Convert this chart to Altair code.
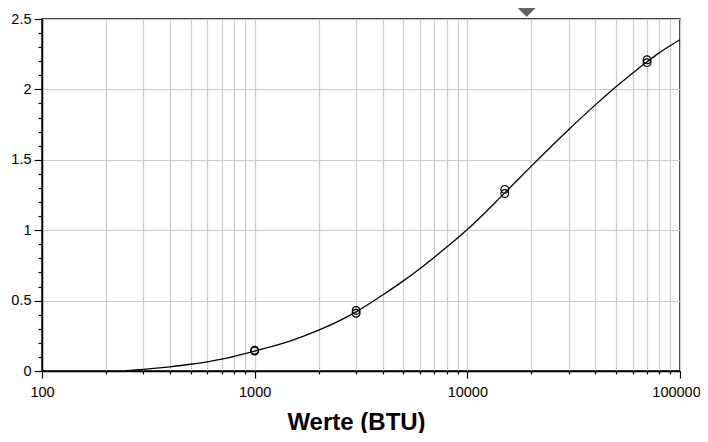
import altair as alt
import pandas as pd

# Fitted curve
curve_x = [246, 300, 400, 500, 700, 1000, 1500, 2000, 3000, 4000, 5000, 6000,
           8000, 10000, 15000, 20000, 30000, 40000, 50000, 60000, 70000, 80000, 100000]
curve_y = [0.003, 0.012, 0.030, 0.048, 0.085, 0.142, 0.218, 0.29, 0.42, 0.54, 0.64, 0.728,
           0.88, 1.005, 1.265, 1.455, 1.715, 1.89, 2.018, 2.117, 2.196, 2.261, 2.353]

# Standards (replicates)
std_x = [1000, 1000, 3000, 3000, 15000, 15000, 70000, 70000]
std_y = [0.142, 0.148, 0.41, 0.43, 1.26, 1.29, 2.19, 2.21]

# Marker above the plot
marker_x = [19000]
marker_y = [2.546]

# Axis ticks
x_ticks = [100, 200, 300, 400, 500, 600, 700, 800, 900,
           1000, 2000, 3000, 4000, 5000, 6000, 7000, 8000, 9000,
           10000, 20000, 30000, 40000, 50000, 60000, 70000, 80000, 90000,
           100000]
x_labels = [100, 1000, 10000, 100000]
y_ticks = [round(i * 0.1, 1) for i in range(26)]

curve_df = pd.DataFrame({"x": curve_x, "y": curve_y})
std_df = pd.DataFrame({"x": std_x, "y": std_y})
marker_df = pd.DataFrame({"x": marker_x, "y": marker_y})

FONT = "Liberation Sans"
major_x_test = "indexof(" + str(x_labels) + ", datum.value) >= 0"
last_x_test = "datum.value == " + str(x_labels[-1])
major_y_test = "abs(datum.value * 2 - round(datum.value * 2)) < 0.000001"

xscale = alt.Scale(type="log", domain=[100, 100000], nice=False)
yscale = alt.Scale(domain=[0, 2.5], nice=False)

x_axis = alt.Axis(
    values=x_ticks,
    tickCount=200,
    title="Werte (BTU)",
    labelExpr=major_x_test + " ? format(datum.value, 'd') : ''",
    labelOverlap=False,
    labelFlush=False,
    labelFontSize=14.5,
    labelPadding=7,
    labelOffset={"condition": {"test": last_x_test, "value": -4}, "value": 0},
    tickSize={"condition": {"test": major_x_test, "value": 7}, "value": 3},
    grid=True,
    gridColor="#cccccc",
    gridWidth=1.2,
    titleFontSize=24,
    titleFontWeight="bold",
    titleBaseline="alphabetic",
    titleY=58,
    titleX=314,
)
y_axis = alt.Axis(
    values=y_ticks,
    tickCount=200,
    title=None,
    labelExpr=major_y_test + " ? format(datum.value, '~g') : ''",
    labelOverlap=False,
    labelFlush=False,
    labelFontSize=14.5,
    labelPadding=3,
    tickSize={"condition": {"test": major_y_test, "value": 8}, "value": 4},
    grid=True,
    gridColor="#cccccc",
    gridWidth=1.2,
    gridOpacity={"condition": {"test": major_y_test, "value": 1}, "value": 0},
)

curve = alt.Chart(curve_df).mark_line(color="black", strokeWidth=1.3, interpolate="monotone").encode(
    x=alt.X("x:Q", scale=xscale, axis=x_axis),
    y=alt.Y("y:Q", scale=yscale, axis=y_axis),
)

points = alt.Chart(std_df).mark_point(
    shape="circle", filled=False, color="black", size=60, strokeWidth=1.2, opacity=1
).encode(
    x=alt.X("x:Q", scale=xscale),
    y=alt.Y("y:Q", scale=yscale),
)

marker = alt.Chart(marker_df).mark_point(
    shape="M-1,-0.5L1,-0.5L0,0.5Z", filled=True, color="#666666", size=324, opacity=1
).encode(
    x=alt.X("x:Q", scale=xscale),
    y=alt.Y("y:Q", scale=yscale),
)

chart = alt.layer(curve, points, marker).properties(
    width=638,
    height=352,
    autosize=alt.AutoSizeParams(type="none"),
    padding={"left": 34, "top": 11, "right": 20, "bottom": 62},
).configure_view(
    stroke="black", strokeWidth=1.5
).configure_axis(
    domainColor="black",
    domainWidth=1.5,
    tickColor="black",
    tickWidth=1.2,
    labelColor="black",
    labelFont=FONT,
    titleFont=FONT,
    titleColor="black",
)

chart.save("out.html", embed_options={"renderer": "svg", "actions": False})
